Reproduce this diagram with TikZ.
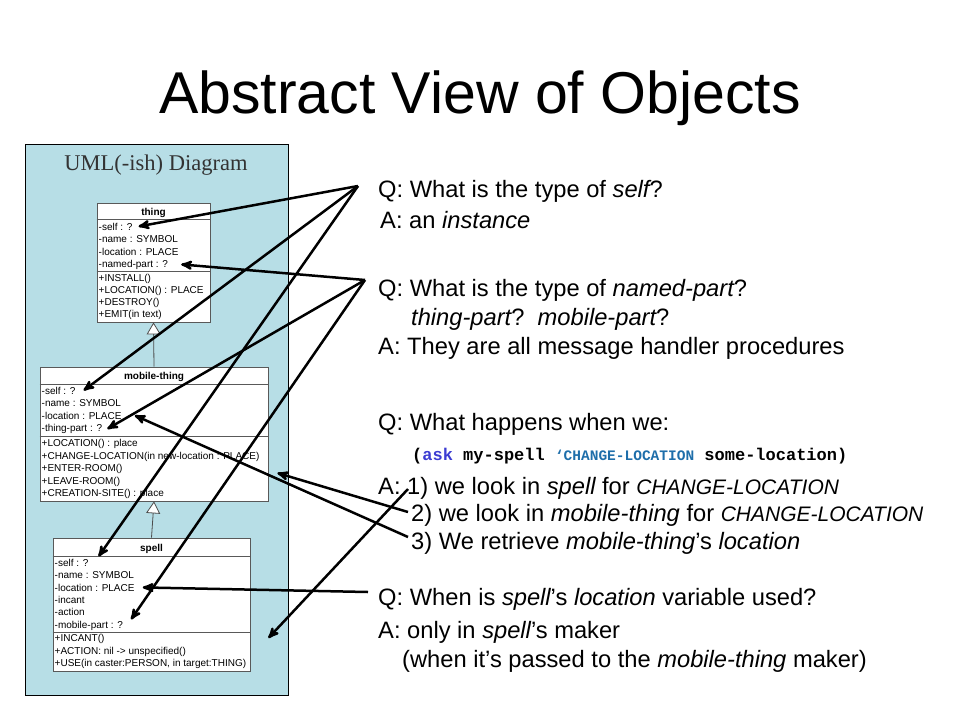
\documentclass[tikz,border=0pt]{standalone}
\usepackage{fontspec}
\setmainfont{Liberation Sans}
\setmonofont{Liberation Mono}
\newfontfamily\panelfont{Liberation Serif}
\usetikzlibrary{arrows,arrows.meta,positioning}

\definecolor{panelteal}{RGB}{183,222,230}
\definecolor{askblue}{RGB}{60,60,210}
\definecolor{quoteblue}{RGB}{30,110,170}
\newcommand{\qtext}{\fontsize{23.7}{28}\selectfont}
\newcommand{\umltext}{\fontsize{10}{12}\selectfont}
\newcommand{\codetext}{\ttfamily\bfseries\fontsize{17}{20}\selectfont}
\newcommand{\lispname}[1]{{\itshape\fontsize{21}{24}\selectfont #1}}
\newcommand{\ital}[1]{{\itshape #1}}

\tikzset{
  umlbox/.style={draw=black!65, fill=white, line width=0.8pt, inner sep=0pt},
  umlrule/.style={draw=black!65, line width=0.8pt},
  umlline/.style={anchor=base west, inner sep=0pt, font=\umltext},
  umlhead/.style={anchor=base, inner sep=0pt, font=\umltext\bfseries},
  qa/.style={anchor=base west, inner sep=0pt, font=\qtext},
  pointer/.style={->, line width=2.5pt},
  isa/.style={-{Triangle[length=12pt,width=14pt,fill=white]}, draw=black!70, line width=0.8pt}
}

\begin{document}
\begin{tikzpicture}[x=1pt,y=-1pt,>=stealth']
  \useasboundingbox (0,0) rectangle (960,720);

  \node[anchor=base, font=\fontsize{59}{70}\selectfont] (title) at (480,113) {Abstract View of Objects};

  % the UML panel
  \node[draw, fill=panelteal, line width=0.8pt, inner sep=0pt, minimum width=263pt, minimum height=551pt] (panel) at (156.5,419.5) {};
  \node[anchor=base, font=\panelfont\fontsize{22.5}{26}\selectfont, text=black!80] (paneltitle) at (156,170) {UML(-ish) Diagram};

  % thing
  \node[umlbox, minimum width=113pt, minimum height=119pt] (thing) at (153.5,262.5) {};
  \draw[umlrule] (thing.west |- 0,219) -- (thing.east |- 0,219);
  \draw[umlrule] (thing.west |- 0,271) -- (thing.east |- 0,271);
  \node[umlhead] (thing-name) at (153.5,215) {thing};
  \node[umlline] (thing-self) at (98.5,230) {-self : ?};
  \node[umlline] (thing-symbol) at (98.5,242.5) {-name : SYMBOL};
  \node[umlline] (thing-location) at (98.5,255) {-location : PLACE};
  \node[umlline] (thing-named) at (98.5,267) {-named-part : ?};
  \node[umlline] (thing-install) at (98.5,281) {+INSTALL()};
  \node[umlline] (thing-loc) at (98.5,293) {+LOCATION() : PLACE};
  \node[umlline] (thing-destroy) at (98.5,305) {+DESTROY()};
  \node[umlline] (thing-emit) at (98.5,317) {+EMIT(in text)};

  % mobile-thing
  \node[umlbox, minimum width=228pt, minimum height=134pt] (mobile-thing) at (154,434) {};
  \draw[umlrule] (mobile-thing.west |- 0,384) -- (mobile-thing.east |- 0,384);
  \draw[umlrule] (mobile-thing.west |- 0,436) -- (mobile-thing.east |- 0,436);
  \node[umlhead] (mobile-name) at (154,379.5) {mobile-thing};
  \node[umlline] (mobile-self) at (41.5,394) {-self : ?};
  \node[umlline] (mobile-symbol) at (41.5,406.5) {-name : SYMBOL};
  \node[umlline] (mobile-location) at (41.5,419) {-location : PLACE};
  \node[umlline] (mobile-thingpart) at (41.5,431.5) {-thing-part : ?};
  \node[umlline] (mobile-loc) at (41.5,446.5) {+LOCATION() : place};
  \node[umlline] (mobile-change) at (41.5,459) {+CHANGE-LOCATION(in new-location : PLACE)};
  \node[umlline] (mobile-enter) at (41.5,471.5) {+ENTER-ROOM()};
  \node[umlline] (mobile-leave) at (41.5,484) {+LEAVE-ROOM()};
  \node[umlline] (mobile-site) at (41.5,496.5) {+CREATION-SITE() : place};

  % spell
  \node[umlbox, minimum width=197pt, minimum height=133pt] (spell) at (151.5,604.5) {};
  \draw[umlrule] (spell.west |- 0,556) -- (spell.east |- 0,556);
  \draw[umlrule] (spell.west |- 0,632) -- (spell.east |- 0,632);
  \node[umlhead] (spell-name) at (151.5,551) {spell};
  \node[umlline] (spell-self) at (54.5,566) {-self : ?};
  \node[umlline] (spell-symbol) at (54.5,578.5) {-name : SYMBOL};
  \node[umlline] (spell-location) at (54.5,591) {-location : PLACE};
  \node[umlline] (spell-incant) at (54.5,603) {-incant};
  \node[umlline] (spell-action) at (54.5,615.5) {-action};
  \node[umlline] (spell-mobilepart) at (54.5,628) {-mobile-part : ?};
  \node[umlline] (spell-incantm) at (54.5,641.5) {+INCANT()};
  \node[umlline] (spell-actionm) at (54.5,654) {+ACTION: nil -> unspecified()};
  \node[umlline] (spell-use) at (54.5,666.5) {+USE(in caster:PERSON, in target:THING)};

  \draw[isa] (mobile-thing.north) -- (thing.south);
  \draw[isa] (spell.north) -- (mobile-thing.south);

  % questions and answers
  \node[qa] (q1) at (378,197) {Q: What is the type of \ital{self}?};
  \node[qa] (a1) at (380,228) {A: an \ital{instance}};
  \node[qa] (q2) at (378,296) {Q: What is the type of \ital{named-part}?};
  \node[qa] (q2b) at (411,325) {\ital{thing-part}?\ \ \ital{mobile-part}?};
  \node[qa] (a2) at (378,354) {A: They are all message handler procedures};
  \node[qa] (q3) at (378,430) {Q: What happens when we:};
  \node[anchor=base west, inner sep=0pt, font=\codetext] (code) at (412,460.5) {(\textcolor{askblue}{ask} my-spell {\fontsize{14.5}{16}\selectfont\textcolor{quoteblue}{‘CHANGE-LOCATION}} some-location)};
  \node[qa] (a3) at (378,494) {A: 1) we look in \ital{spell} for \lispname{CHANGE-LOCATION}};
  \node[qa] (a3b) at (411,521) {2) we look in \ital{mobile-thing} for \lispname{CHANGE-LOCATION}};
  \node[qa] (a3c) at (411,549) {3) We retrieve \ital{mobile-thing}’s \ital{location}};
  \node[qa] (q4) at (378,605) {Q: When is \ital{spell}’s \ital{location} variable used?};
  \node[qa] (a4) at (378,638) {A: only in \ital{spell}’s maker};
  \node[qa] (a4b) at (402,667) {(when it’s passed to the \ital{mobile-thing} maker)};

  % where the pointers start
  \coordinate (q1-from) at (358,186);
  \coordinate (q2-from) at (365,280);
  \coordinate (a3-from) at (408,489);
  \coordinate (a3b-from) at (408,512);
  \coordinate (a3c-from) at (408,537);
  \coordinate (q4-from) at (368,592);

  \path[pointer]
    (q1-from) edge ([xshift=6pt]thing-self.east)
              edge ([xshift=8pt]mobile-self.east)
              edge ([shift={(10pt,6pt)}]spell-self.east)

    (q2-from) edge ([xshift=13pt]thing-named.east)
              edge ([xshift=5pt]mobile-thingpart.east)
              edge ([shift={(8pt,6pt)}]spell-mobilepart.east)

    (a3-from) edge ([shift={(18pt,-33.5pt)}]spell.east)
    (a3b-from) edge ([shift={(9pt,-39pt)}]mobile-thing.east)
    (a3c-from) edge ([xshift=13pt]mobile-location.east)
    (q4-from) edge ([xshift=8pt]spell-location.east);
\end{tikzpicture}
\end{document}
